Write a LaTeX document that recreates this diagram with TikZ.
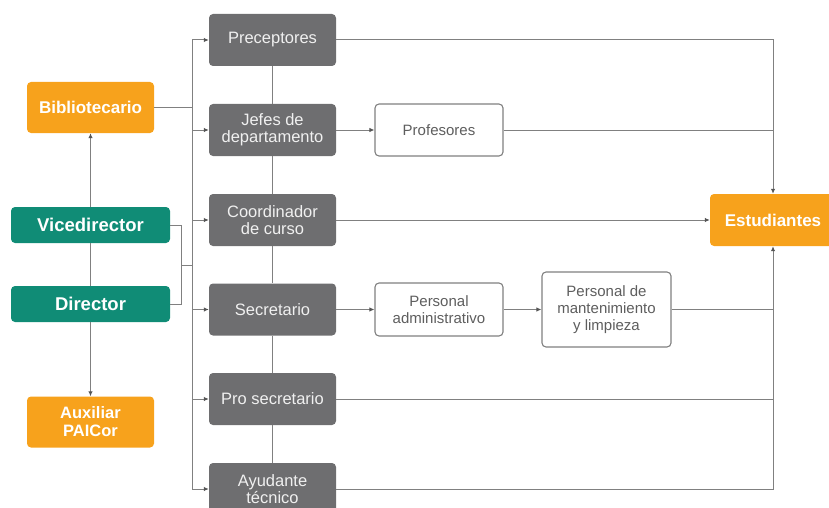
\documentclass[tikz,border=0pt]{standalone}
\usepackage{fontspec}
\setmainfont{Liberation Sans}
\usetikzlibrary{arrows.meta}
\definecolor{cgray}{HTML}{6E6E70}
\definecolor{corange}{HTML}{F7A21C}
\definecolor{cteal}{HTML}{108C76}
\definecolor{cline}{HTML}{808080}
\definecolor{ctip}{HTML}{555555}
\definecolor{ctext}{HTML}{5E5E5E}
\begin{document}
\begin{tikzpicture}[x=1pt,y=-1pt,
  box/.style={rounded corners=4pt, align=center, inner sep=0pt},
  graybox/.style={box, fill=cgray, text=white!94!black, minimum width=127pt, minimum height=52pt, font=\fontsize{16.5}{17}\selectfont},
  orangebox/.style={box, fill=corange, text=white, minimum width=127pt, minimum height=51pt, font=\bfseries\fontsize{17}{18}\selectfont},
  tealbox/.style={box, fill=cteal, text=white, minimum width=159pt, minimum height=36pt, font=\bfseries\fontsize{18.5}{19}\selectfont},
  whitebox/.style={box, draw=cline, fill=white, text=ctext, line width=1.1pt, minimum width=128pt, minimum height=52pt, font=\fontsize{15}{17}\selectfont},
  conn/.style={draw=cline, line width=1pt},
  arr/.style={conn, -{Latex[length=5pt,width=4.5pt,color=ctip]}}
]
\useasboundingbox (0,0) rectangle (829,508);
% gray column
\node[graybox] (prec) at (272.5,40) {Preceptores};
\node[graybox] (jefes) at (272.5,130) {Jefes de\\departamento};
\node[graybox] (coord) at (272.5,220) {Coordinador\\de curso};
\node[graybox] (secr) at (272.5,309.5) {Secretario};
\node[graybox] (pros) at (272.5,399) {Pro secretario};
\node[graybox] (ayud) at (272.5,489) {Ayudante\\técnico};
% left column
\node[orangebox] (bibl) at (90.5,107.5) {Bibliotecario};
\node[tealbox] (vice) at (90.5,225) {Vicedirector};
\node[tealbox] (dir) at (90.5,304) {Director};
\node[orangebox, font=\bfseries\fontsize{16.5}{18}\selectfont] (aux) at (90.5,422) {Auxiliar\\PAICor};
% right
\node[orangebox, minimum width=126pt, minimum height=52pt] (est) at (773,220) {Estudiantes};
\node[whitebox] (prof) at (439,130) {Profesores};
\node[whitebox, minimum height=53pt] (padm) at (439,309.5) {Personal\\administrativo};
\node[whitebox, minimum width=129pt, minimum height=75pt] (pman) at (606.5,309.5) {Personal de\\mantenimiento\\y limpieza};
% coordinates
\coordinate (bus) at (192,107.5);
\coordinate (vd) at (181,265);
% gray column links
\draw[conn] (prec.south) -- (jefes.north);
\draw[conn] (jefes.south) -- (coord.north);
\draw[conn] (coord.south) -- (secr.north);
\draw[conn] (secr.south) -- (pros.north);
\draw[conn] (pros.south) -- (ayud.north);
% left links
\draw[arr] (vice.north) -- (bibl.south);
\draw[conn] (vice.south) -- (dir.north);
\draw[arr] (dir.south) -- (aux.north);
\draw[conn] (bibl.east) -- (bus);
\draw[conn] (vice.east) -| (vd);
\draw[conn] (dir.east) -| (vd);
\draw[conn] (vd) -- (vd -| bus);
\foreach \n in {prec,jefes,coord,secr,pros,ayud}
  \draw[arr] (bus) |- (\n.west);
% middle
\draw[arr] (jefes.east) -- (prof.west);
\draw[arr] (secr.east) -- (padm.west);
\draw[arr] (padm.east) -- (pman.west);
\draw[arr] (coord.east) -- (est.west);
% right
\draw[arr] (prec.east) -| (est.north);
\draw[conn] (prof.east) -- (prof.east -| est.north);
\draw[arr] (ayud.east) -| (est.south);
\draw[conn] (pman.east) -- (pman.east -| est.south);
\draw[conn] (pros.east) -- (pros.east -| est.south);
\end{tikzpicture}
\end{document}
